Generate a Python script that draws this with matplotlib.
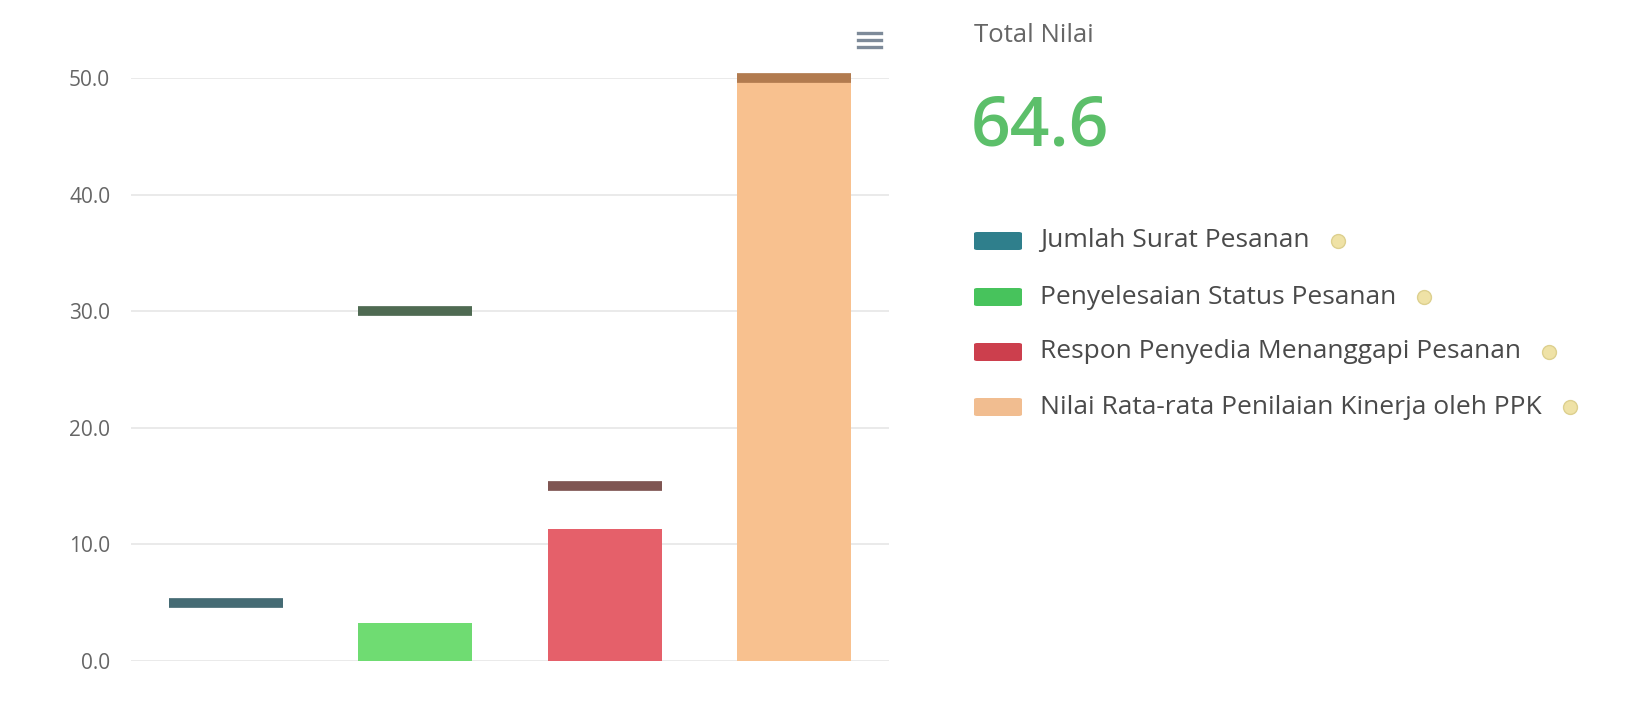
import matplotlib
matplotlib.use("Agg")
import matplotlib.pyplot as plt
from matplotlib.patches import FancyBboxPatch
from matplotlib.lines import Line2D

plt.rcParams['font.family'] = ['Open Sans', 'DejaVu Sans']

# ---- data ----
categories = ["Jumlah Surat Pesanan", "Penyelesaian Status Pesanan",
              "Respon Penyedia Menanggapi Pesanan",
              "Nilai Rata-rata Penilaian Kinerja oleh PPK"]
values = [0.0, 3.3, 11.3, 50.0]          # achieved score (bars)
goals = [5.0, 30.0, 15.0, 50.0]          # target markers
yticks = [0, 10, 20, 30, 40, 50]
total_label = "Total Nilai"
total_value = sum(values)

bar_colors = ["#3f8a97", "#6fdc72", "#e5606a", "#f8c18f"]
goal_colors = ["#456b74", "#4f6a52", "#7f5552", "#b27b4f"]
legend_colors = ["#2f7f8c", "#47c35c", "#cc3f4d", "#f1bd90"]

W, H = 1639, 716
fig = plt.figure(figsize=(W / 100, H / 100), dpi=100)

ax = fig.add_axes([131 / W, 1 - 661 / H, (889 - 131) / W, (661 - 78) / H])
x = list(range(len(categories)))
ax.bar(x, values, width=0.6, color=bar_colors, zorder=3)
ax.hlines(goals, [i - 0.3 for i in x], [i + 0.3 for i in x], colors=goal_colors,
          linewidth=7, zorder=4, clip_on=False, capstyle='butt')
ax.set_xlim(-0.5, len(categories) - 0.5)
ax.set_ylim(0, 50)
ax.set_yticks(yticks)
ax.set_yticklabels([f"{v:.1f}" for v in yticks], fontsize=15, color="#666666")
ax.tick_params(axis='y', length=0, pad=15)
ax.set_xticks([])
for s in ax.spines.values():
    s.set_visible(False)
ax.grid(axis='y', color='#e6e6e6', linewidth=1.2, zorder=0)
ax.set_axisbelow(True)

# hamburger menu icon
for dy in (0, 7, 14):
    yy = 1 - (33 + dy) / H
    fig.add_artist(Line2D([858 / W, 881 / W], [yy, yy], color="#7d8a99", linewidth=2.4))

# right panel
fig.text(974 / W, 1 - 35 / H, total_label, fontsize=18.5, color="#666666", va='center', ha='left')
fig.text(971 / W, 1 - 128 / H, f"{total_value:.1f}", fontsize=50, color="#5cbf6a",
         va='center', ha='left', fontweight='semibold')

leg_y = [241, 297, 352, 407]
for lab, col, yy in zip(categories, legend_colors, leg_y):
    yf = 1 - yy / H
    fig.add_artist(FancyBboxPatch((974 / W, yf - 9 / H), 48 / W, 18 / H,
                                  boxstyle="round,pad=0,rounding_size=0.002",
                                  facecolor=col, edgecolor='none', transform=fig.transFigure))
    t = fig.text(1040 / W, yf, lab, fontsize=19, color="#4a4a4a", va='center', ha='left')
    fig.canvas.draw()
    bb = t.get_window_extent()
    cx = bb.x1 + 28
    fig.add_artist(Line2D([cx / W], [yf], marker='o', markersize=10, linestyle='none',
                          markerfacecolor="#efe2a6", markeredgecolor="#ddd08f",
                          transform=fig.transFigure))

fig.savefig("out.png", dpi=100, facecolor='white')
